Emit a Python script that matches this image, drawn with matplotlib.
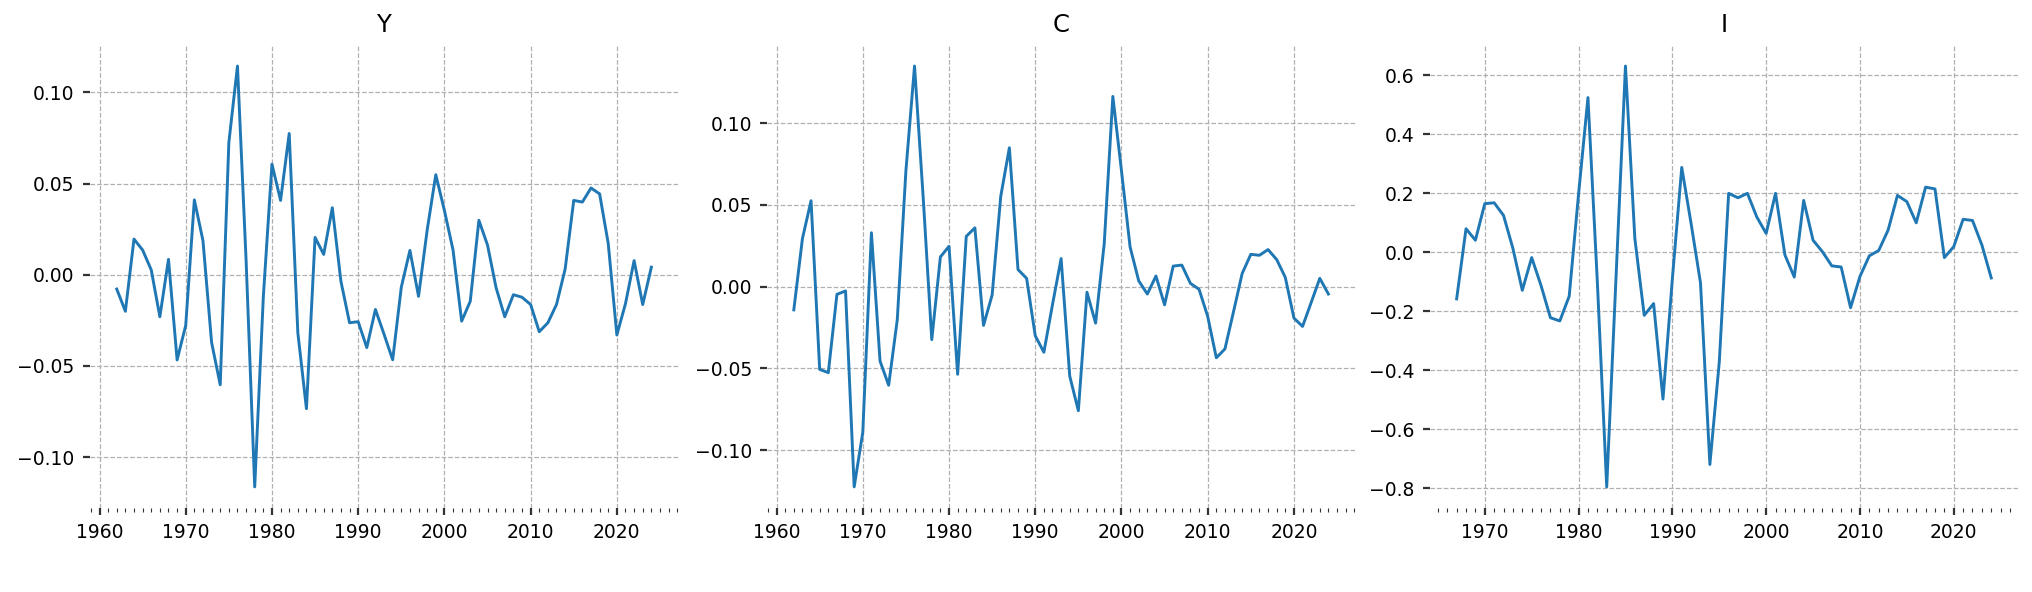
import matplotlib
matplotlib.use("Agg")
import matplotlib.pyplot as plt
from matplotlib.ticker import MultipleLocator

# Cyclical components (annual)
years_yc = list(range(1962, 2025))
years_i = list(range(1967, 2025))

y_vals = [
    -0.0078, -0.0200, 0.0196, 0.0136, 0.0027, -0.0230, 0.0085, -0.0467,
    -0.0277, 0.0411, 0.0187, -0.0371, -0.0603, 0.0725, 0.1145, 0.0080,
    -0.1163, -0.0120, 0.0607, 0.0408, 0.0775, -0.0317, -0.0734, 0.0205,
    0.0112, 0.0368, -0.0036, -0.0263, -0.0257, -0.0399, -0.0190, -0.0326,
    -0.0466, -0.0068, 0.0134, -0.0118, 0.0245, 0.0549, 0.0353, 0.0136,
    -0.0254, -0.0145, 0.0299, 0.0163, -0.0072, -0.0230, -0.0109, -0.0123,
    -0.0163, -0.0312, -0.0263, -0.0163, 0.0031, 0.0408, 0.0399, 0.0476,
    0.0444, 0.0172, -0.0330, -0.0158, 0.0078, -0.0163, 0.0042,
]

c_vals = [
    -0.0142, 0.0294, 0.0526, -0.0506, -0.0526, -0.0047, -0.0026, -0.1225,
    -0.0891, 0.0330, -0.0455, -0.0603, -0.0202, 0.0709, 0.1350, 0.0550,
    -0.0324, 0.0182, 0.0247, -0.0536, 0.0308, 0.0360, -0.0237, -0.0051,
    0.0553, 0.0850, 0.0105, 0.0051, -0.0300, -0.0401, -0.0110, 0.0172,
    -0.0547, -0.0759, -0.0034, -0.0223, 0.0263, 0.1164, 0.0709, 0.0243,
    0.0036, -0.0045, 0.0065, -0.0111, 0.0126, 0.0132, 0.0020, -0.0016,
    -0.0182, -0.0435, -0.0381, -0.0152, 0.0081, 0.0198, 0.0192, 0.0227,
    0.0166, 0.0057, -0.0192, -0.0243, -0.0097, 0.0051, -0.0045,
]

i_vals = [
    -0.158, 0.080, 0.041, 0.165, 0.168, 0.125, 0.013, -0.129,
    -0.018, -0.113, -0.222, -0.233, -0.149, 0.198, 0.525, -0.100,
    -0.796, -0.080, 0.632, 0.047, -0.214, -0.174, -0.498, -0.090,
    0.288, 0.097, -0.104, -0.720, -0.373, 0.200, 0.185, 0.200,
    0.120, 0.064, 0.200, -0.009, -0.084, 0.176, 0.041, 0.002,
    -0.046, -0.050, -0.188, -0.082, -0.012, 0.006, 0.075, 0.193,
    0.172, 0.100, 0.221, 0.215, -0.018, 0.019, 0.112, 0.108,
    0.025, -0.087,
]

titles = ["Y", "C", "I"]
series = [(years_yc, y_vals), (years_yc, c_vals), (years_i, i_vals)]

LINE_COLOR = "#1f77b4"
GRID_COLOR = "#b0b0b0"
TICK_COLOR = "#333333"

fig = plt.figure(figsize=(20.32, 5.92), dpi=100, facecolor="white")

# axes placement in figure fractions (left, bottom, width, height)
lefts = [0.0443, 0.3775, 0.7037]
bottom = 0.142
width = 0.2894
height = 0.782

for left, title, (xs, vals) in zip(lefts, titles, series):
    ax = fig.add_axes([left, bottom, width, height])
    ax.plot(xs, vals, color=LINE_COLOR, linewidth=2.1)
    ax.set_title(title, fontsize=17.5, pad=9)

    for s in ax.spines.values():
        s.set_visible(False)

    ax.xaxis.set_major_locator(MultipleLocator(10))
    ax.xaxis.set_minor_locator(MultipleLocator(1))
    ax.grid(True, which="major", linestyle="--", color=GRID_COLOR,
            linewidth=0.9)
    ax.tick_params(axis="both", which="major", labelsize=13.5, length=5,
                   width=1.6, color=TICK_COLOR, pad=6)
    ax.tick_params(axis="x", which="minor", length=3, width=0.8,
                   color=TICK_COLOR)

fig.savefig("out.png", dpi=100, facecolor="white")
